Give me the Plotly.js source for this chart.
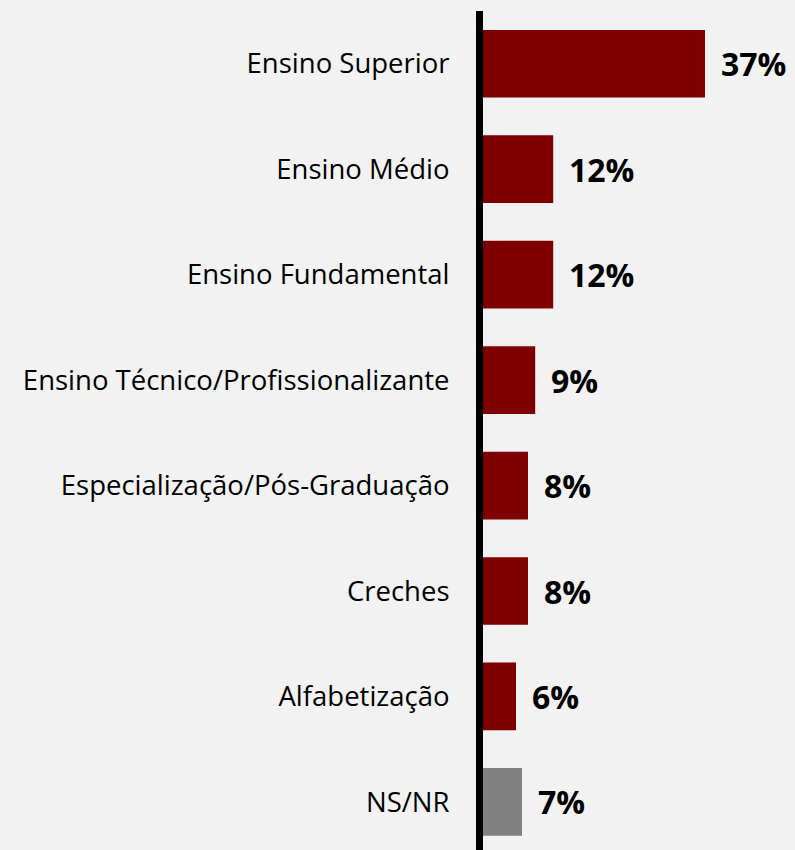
<!DOCTYPE html>
<html>
<head>
<meta charset="utf-8">
<script src="https://cdn.plot.ly/plotly-3.0.1.min.js"></script>
<style>
html,body{margin:0;padding:0;background:#f2f2f2;}
#chart{width:795px;height:850px;}
</style>
</head>
<body>
<div id="chart"></div>
<script>
const categories = [
  "Ensino Superior",
  "Ensino Médio",
  "Ensino Fundamental",
  "Ensino Técnico/Profissionalizante",
  "Especialização/Pós-Graduação",
  "Creches",
  "Alfabetização",
  "NS/NR"
];
const values = [37, 11.7, 11.7, 8.7, 7.5, 7.5, 5.5, 6.5];
const valueLabels = ["37%", "12%", "12%", "9%", "8%", "8%", "6%", "7%"];
const barColors = ["#7f0000","#7f0000","#7f0000","#7f0000","#7f0000","#7f0000","#7f0000","#808080"];

const trace = {
  type: "bar",
  orientation: "h",
  x: values,
  y: categories,
  marker: {color: barColors, line: {width: 0}},
  hoverinfo: "none"
};

const annotations = categories.map((c, i) => ({
  x: values[i],
  y: c,
  xref: "x",
  yref: "y",
  text: valueLabels[i],
  showarrow: false,
  xanchor: "left",
  yanchor: "middle",
  xshift: 14,
  font: {family: "Open Sans", size: 32, color: "#000000", weight: "bold"}
}));

const layout = {
  width: 795,
  height: 850,
  paper_bgcolor: "#f2f2f2",
  plot_bgcolor: "#f2f2f2",
  margin: {l: 483, r: 0, t: 11, b: 0, pad: 0},
  bargap: 0.358,
  showlegend: false,
  xaxis: {range: [0, 52], visible: false, showgrid: false, zeroline: false, fixedrange: true},
  yaxis: {
    type: "category",
    categoryorder: "array",
    categoryarray: categories,
    range: [7.456, -0.5],
    showline: true,
    linecolor: "#000000",
    linewidth: 7,
    ticks: "",
    showgrid: false,
    zeroline: false,
    ticklabelstandoff: 21,
    tickfont: {family: "Open Sans", size: 27.5, color: "#000000"},
    fixedrange: true
  },
  annotations: annotations,
  font: {family: "Open Sans"}
};

Plotly.newPlot("chart", [trace], layout, {displayModeBar: false, staticPlot: true});
</script>
</body>
</html>
